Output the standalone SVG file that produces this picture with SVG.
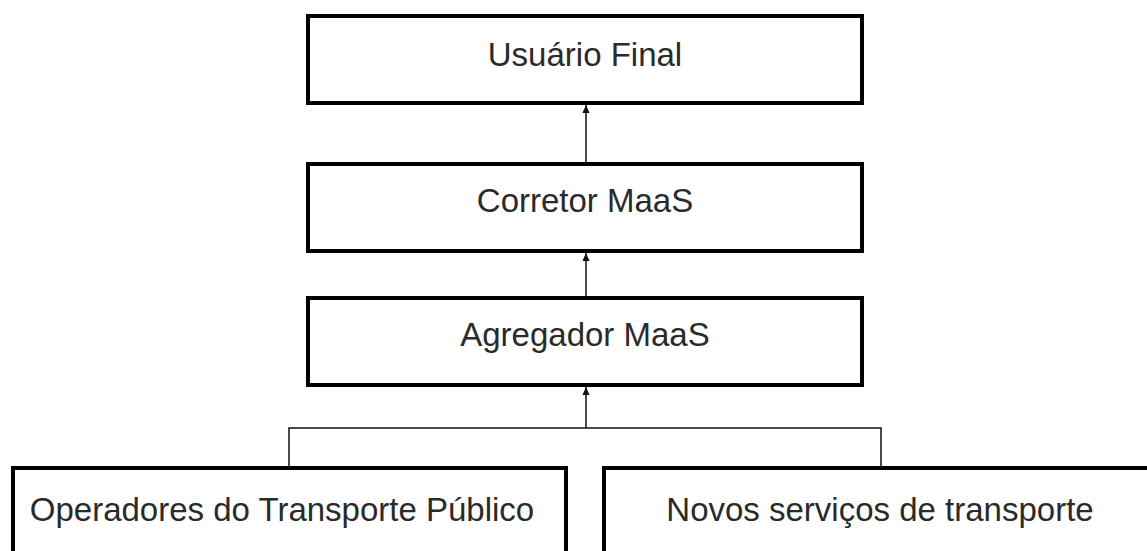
<svg xmlns="http://www.w3.org/2000/svg" width="1147" height="551" viewBox="0 0 1147 551">
<style>
.box{fill:#fff;stroke:#000;stroke-width:4}
.lbl{font-family:"Liberation Sans",Arial,sans-serif;font-size:33px;fill:#2a2a2a;text-anchor:middle}
.con{fill:none;stroke:#111;stroke-width:1.5}
</style>
<defs>
<marker id="ah" markerWidth="8" markerHeight="9" refX="9" refY="4" orient="auto" markerUnits="userSpaceOnUse" viewBox="0 0 9 8">
<path d="M0,0 L9,4 L0,8 Z" fill="#111"/>
</marker>
</defs>
<rect width="1147" height="551" fill="#fff"/>
<g id="connectors">
<path class="con" d="M586,162 L586,105" marker-end="url(#ah)"/>
<path class="con" d="M586,296 L586,253" marker-end="url(#ah)"/>
<path class="con" d="M289,466 L289,428 L881,428 L881,466"/>
<path class="con" d="M586,428 L586,387" marker-end="url(#ah)"/>
</g>
<g id="n1"><rect class="box" x="308" y="16" width="554" height="87"/><text class="lbl" x="585" y="66">Usuário Final</text></g>
<g id="n2"><rect class="box" x="308" y="164" width="554" height="87"/><text class="lbl" x="585" y="212">Corretor MaaS</text></g>
<g id="n3"><rect class="box" x="308" y="298" width="554" height="87"/><text class="lbl" x="585" y="346">Agregador MaaS</text></g>
<g id="n4"><rect class="box" x="13" y="468" width="553" height="100"/><text class="lbl" x="282" y="521">Operadores do Transporte Público</text></g>
<g id="n5"><rect class="box" x="604" y="468" width="554" height="100"/><text class="lbl" x="880" y="521">Novos serviços de transporte</text></g>
</svg>
